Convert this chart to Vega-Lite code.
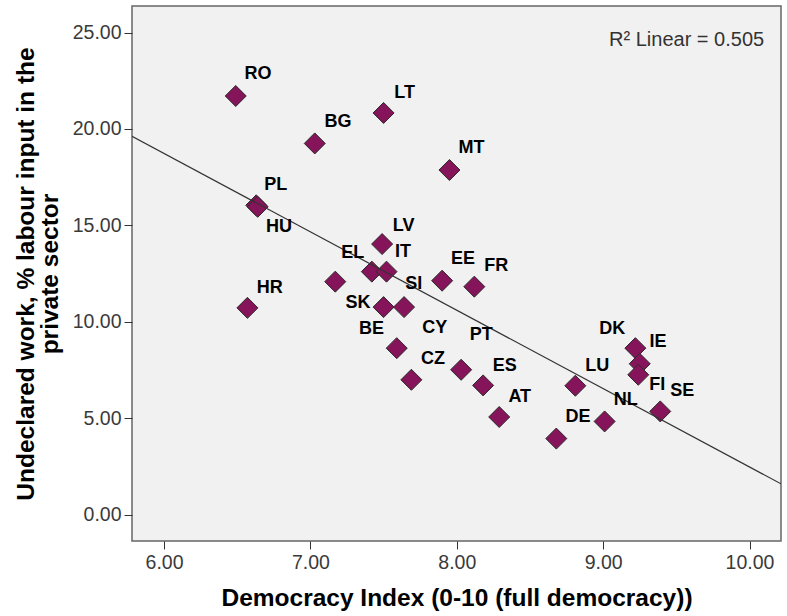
{
  "$schema": "https://vega.github.io/schema/vega-lite/v6.json",
  "autosize": {"type": "none"},
  "padding": {"left": 132, "top": 6, "right": 6, "bottom": 75},
  "width": 649,
  "height": 535,
  "background": "white",
  "config": {
    "font": "Liberation Sans",
    "view": {"fill": "#f1f1f1", "stroke": "#666666", "strokeWidth": 1.5},
    "axis": {
      "grid": false,
      "domain": false,
      "tickColor": "#333333",
      "labelColor": "#3a3a3a",
      "labelFont": "Liberation Sans",
      "labelFontSize": 19.5,
      "titleFont": "Liberation Sans",
      "titleFontWeight": "bold",
      "titleFontSize": 24.5,
      "titleColor": "#000000"
    }
  },
  "datasets": {
    "pts": [
      {"code": "RO", "x": 6.49, "y": 21.71, "lx": 6.642, "ly": 22.84},
      {"code": "BG", "x": 7.03, "y": 19.25, "lx": 7.189, "ly": 20.37},
      {"code": "LT", "x": 7.50, "y": 20.83, "lx": 7.644, "ly": 21.87},
      {"code": "MT", "x": 7.95, "y": 17.87, "lx": 8.100, "ly": 18.99},
      {"code": "PL", "x": 6.63, "y": 16.04, "lx": 6.763, "ly": 17.09},
      {"code": "HU", "x": 6.64, "y": 15.96, "lx": 6.786, "ly": 14.93},
      {"code": "LV", "x": 7.49, "y": 14.03, "lx": 7.637, "ly": 14.98},
      {"code": "EL", "x": 7.42, "y": 12.60, "lx": 7.289, "ly": 13.57},
      {"code": "IT", "x": 7.52, "y": 12.60, "lx": 7.633, "ly": 13.64},
      {"code": "HR", "x": 6.57, "y": 10.72, "lx": 6.722, "ly": 11.76},
      {"code": "EE", "x": 7.90, "y": 12.13, "lx": 8.042, "ly": 13.24},
      {"code": "FR", "x": 8.12, "y": 11.82, "lx": 8.270, "ly": 12.89},
      {"code": "SI", "x": 7.64, "y": 10.76, "lx": 7.706, "ly": 11.95},
      {"code": "SK", "x": 7.17, "y": 12.08, "lx": 7.325, "ly": 10.99},
      {"code": "BE", "x": 7.50, "y": 10.76, "lx": 7.417, "ly": 9.62},
      {"code": "CY", "x": 7.59, "y": 8.63, "lx": 7.849, "ly": 9.70},
      {"code": "PT", "x": 8.03, "y": 7.51, "lx": 8.168, "ly": 9.32},
      {"code": "CZ", "x": 7.69, "y": 6.99, "lx": 7.837, "ly": 8.06},
      {"code": "ES", "x": 8.18, "y": 6.70, "lx": 8.327, "ly": 7.73},
      {"code": "AT", "x": 8.29, "y": 5.06, "lx": 8.430, "ly": 6.10},
      {"code": "DK", "x": 9.22, "y": 8.63, "lx": 9.063, "ly": 9.62},
      {"code": "IE", "x": 9.25, "y": 7.82, "lx": 9.374, "ly": 8.97},
      {"code": "FI", "x": 9.24, "y": 7.25, "lx": 9.370, "ly": 6.73},
      {"code": "LU", "x": 8.81, "y": 6.68, "lx": 8.960, "ly": 7.73},
      {"code": "SE", "x": 9.39, "y": 5.35, "lx": 9.541, "ly": 6.42},
      {"code": "NL", "x": 9.01, "y": 4.83, "lx": 9.154, "ly": 5.92},
      {"code": "DE", "x": 8.68, "y": 3.94, "lx": 8.828, "ly": 5.04}
    ],
    "note": [
      {"text": "R² Linear = 0.505", "x": 10.10, "y": 24.6}
    ]
  },
  "layer": [
    {
      "data": {"name": "pts"},
      "mark": {"type": "point", "shape": "diamond", "filled": true, "size": 441, "fill": "#86145a", "stroke": "#2b2b2b", "strokeWidth": 1, "opacity": 1},
      "encoding": {
        "x": {"field": "x", "type": "quantitative", "scale": {"domain": [5.7814, 10.215], "nice": false, "zero": false},
          "axis": {"values": [6, 7, 8, 9, 10], "format": ".2f", "tickSize": 8, "labelPadding": 4, "title": "Democracy Index (0-10 (full democracy))", "titlePadding": 15}},
        "y": {"field": "y", "type": "quantitative", "scale": {"domain": [-1.372, 26.378], "nice": false, "zero": false},
          "axis": {"values": [0, 5, 10, 15, 20, 25], "format": ".2f", "tickSize": 8, "labelPadding": 3, "title": ["Undeclared work, % labour input in the", "private sector"], "titlePadding": 10, "titleLineHeight": 24}}
      }
    },
    {
      "data": {"name": "pts"},
      "transform": [{"regression": "y", "on": "x", "extent": [5.7814, 10.215]}],
      "mark": {"type": "line", "color": "#333333", "strokeWidth": 1.2, "clip": true},
      "encoding": {
        "x": {"field": "x", "type": "quantitative"},
        "y": {"field": "y", "type": "quantitative"}
      }
    },
    {
      "data": {"name": "pts"},
      "mark": {"type": "text", "fontWeight": "bold", "fontSize": 18, "color": "#000000", "align": "center", "baseline": "middle"},
      "encoding": {
        "x": {"field": "lx", "type": "quantitative"},
        "y": {"field": "ly", "type": "quantitative"},
        "text": {"field": "code"}
      }
    },
    {
      "data": {"name": "note"},
      "mark": {"type": "text", "fontSize": 20, "color": "#333333", "align": "right", "baseline": "middle"},
      "encoding": {
        "x": {"field": "x", "type": "quantitative"},
        "y": {"field": "y", "type": "quantitative"},
        "text": {"field": "text"}
      }
    }
  ]
}
